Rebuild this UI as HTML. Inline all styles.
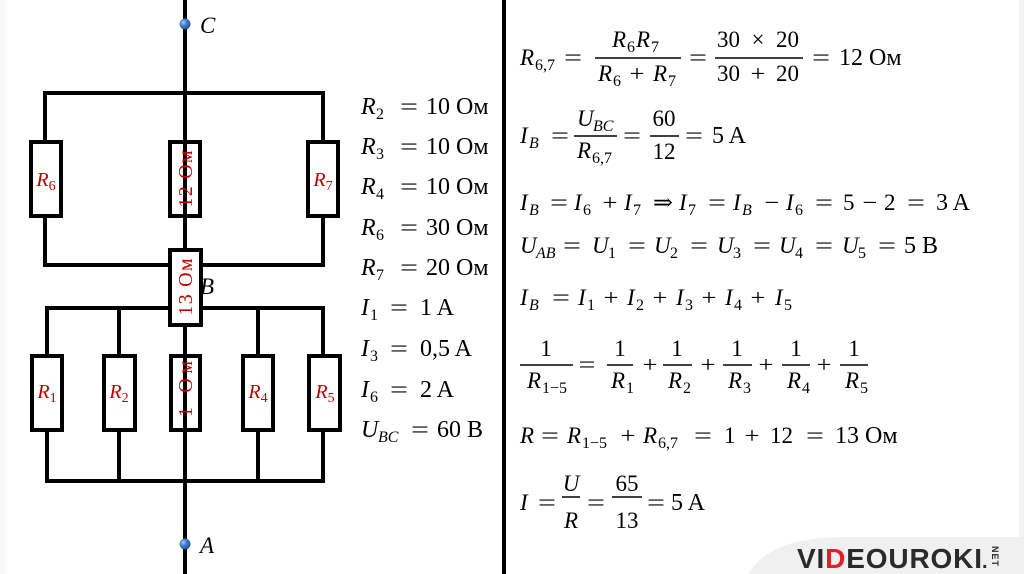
<!DOCTYPE html>
<html>
<head>
<meta charset="utf-8">
<style>
html,body{margin:0;padding:0;background:#fff;}
svg{display:block;}
text{font-family:"Liberation Serif","DejaVu Serif",serif;font-size:23px;fill:#000;}
.i{font-style:italic;}
.s{font-size:16px;}
.si{font-size:16px;font-style:italic;}
.r{fill:#c00000;font-size:20px;}
.r tspan{fill:#c00000;}
.op{text-anchor:middle;}
.v{font-size:24px;}
</style>
</head>
<body>
<svg width="1024" height="574" viewBox="0 0 1024 574" xmlns="http://www.w3.org/2000/svg">
<defs>
<radialGradient id="dot" cx="35%" cy="35%" r="70%">
<stop offset="0" stop-color="#9cc3f0"/>
<stop offset="0.5" stop-color="#3f78c8"/>
<stop offset="1" stop-color="#1f4f95"/>
</radialGradient>
</defs>
<rect x="0" y="0" width="1024" height="574" fill="#fff"/>
<rect x="0" y="0" width="6" height="574" fill="#f7f7f7"/>
<rect x="1019" y="0" width="5" height="574" fill="#f5f5f5"/>
<path d="M748 574 Q770 537 845 537 L1024 537 L1024 574 Z" fill="#f0f0f0"/>

<!-- ===== Circuit ===== -->
<g stroke="#000" stroke-width="4" fill="none">
  <line x1="43" y1="93" x2="325" y2="93"/>
  <line x1="45" y1="93" x2="45" y2="267"/>
  <line x1="323" y1="93" x2="323" y2="267"/>
  <line x1="43" y1="265" x2="325" y2="265"/>
  <line x1="45" y1="308" x2="325" y2="308"/>
  <line x1="45" y1="481" x2="325" y2="481"/>
  <line x1="47" y1="308" x2="47" y2="481"/>
  <line x1="119" y1="308" x2="119" y2="481"/>
  <line x1="258" y1="308" x2="258" y2="481"/>
  <line x1="323" y1="308" x2="323" y2="481"/>
</g>
<g stroke="#000" stroke-width="4" fill="#fff">
  <rect x="31" y="142" width="30" height="74"/>
  <rect x="308" y="142" width="30" height="74"/>
  <rect x="170" y="142" width="30" height="74"/>
  <rect x="32" y="356" width="30" height="74"/>
  <rect x="104" y="356" width="31" height="74"/>
  <rect x="171" y="356" width="29" height="74"/>
  <rect x="243" y="356" width="30" height="74"/>
  <rect x="309" y="356" width="31" height="74"/>
</g>
<line x1="185" y1="0" x2="185" y2="574" stroke="#000" stroke-width="4"/>
<text class="i" x="200" y="294">B</text>
<rect x="170" y="250" width="31" height="75" stroke="#000" stroke-width="4" fill="#fff"/>

<text class="r" x="46" y="186" text-anchor="middle"><tspan font-style="italic">R</tspan><tspan font-size="14" dy="4">6</tspan></text>
<text class="r" x="323" y="186" text-anchor="middle"><tspan font-style="italic">R</tspan><tspan font-size="14" dy="4">7</tspan></text>
<text class="r" x="47" y="398" text-anchor="middle"><tspan font-style="italic">R</tspan><tspan font-size="14" dy="4">1</tspan></text>
<text class="r" x="119" y="398" text-anchor="middle"><tspan font-style="italic">R</tspan><tspan font-size="14" dy="4">2</tspan></text>
<text class="r" x="258" y="398" text-anchor="middle"><tspan font-style="italic">R</tspan><tspan font-size="14" dy="4">4</tspan></text>
<text class="r" x="325" y="398" text-anchor="middle"><tspan font-style="italic">R</tspan><tspan font-size="14" dy="4">5</tspan></text>
<text class="r" transform="translate(192,179) rotate(-90)" text-anchor="middle" textLength="57">12 Ом</text>
<text class="r" transform="translate(192,287) rotate(-90)" text-anchor="middle" textLength="57">13 Ом</text>
<text class="r" transform="translate(192,389) rotate(-90)" text-anchor="middle" textLength="56">1 Ом</text>

<circle cx="185" cy="24" r="5.5" fill="url(#dot)"/>
<circle cx="185" cy="544" r="5.5" fill="url(#dot)"/>
<text class="i" x="200" y="33">C</text>
<text class="i" x="200" y="553">A</text>

<!-- ===== Given data ===== -->
<g>
<text class="i v" x="361" y="114">R</text><text class="s" x="376" y="119">2</text>
<text class="op" x="409" y="114" textLength="18" lengthAdjust="spacingAndGlyphs">=</text>
<text class="v" x="426" y="114">10 Ом</text>

<text class="i v" x="361" y="154">R</text><text class="s" x="376" y="159">3</text>
<text class="op" x="409" y="154" textLength="18" lengthAdjust="spacingAndGlyphs">=</text>
<text class="v" x="426" y="154">10 Ом</text>

<text class="i v" x="361" y="194">R</text><text class="s" x="376" y="199">4</text>
<text class="op" x="409" y="194" textLength="18" lengthAdjust="spacingAndGlyphs">=</text>
<text class="v" x="426" y="194">10 Ом</text>

<text class="i v" x="361" y="235">R</text><text class="s" x="376" y="240">6</text>
<text class="op" x="409" y="235" textLength="18" lengthAdjust="spacingAndGlyphs">=</text>
<text class="v" x="426" y="235">30 Ом</text>

<text class="i v" x="361" y="275">R</text><text class="s" x="376" y="280">7</text>
<text class="op" x="409" y="275" textLength="18" lengthAdjust="spacingAndGlyphs">=</text>
<text class="v" x="426" y="275">20 Ом</text>

<text class="i v" x="361" y="315">I</text><text class="s" x="370" y="320">1</text>
<text class="op" x="399" y="315" textLength="18" lengthAdjust="spacingAndGlyphs">=</text>
<text class="v" x="420" y="315">1 A</text>

<text class="i v" x="361" y="356">I</text><text class="s" x="370" y="361">3</text>
<text class="op" x="399" y="356" textLength="18" lengthAdjust="spacingAndGlyphs">=</text>
<text class="v" x="420" y="356">0,5 A</text>

<text class="i v" x="361" y="397">I</text><text class="s" x="370" y="402">6</text>
<text class="op" x="399" y="397" textLength="18" lengthAdjust="spacingAndGlyphs">=</text>
<text class="v" x="420" y="397">2 A</text>

<text class="i v" x="361" y="437">U</text><text class="si" x="378" y="442">BC</text>
<text class="op" x="420" y="437" textLength="18" lengthAdjust="spacingAndGlyphs">=</text>
<text class="v" x="437" y="437">60 B</text>
</g>

<rect x="502" y="0" width="4" height="574" fill="#000"/>

<!-- ===== Solution ===== -->
<g stroke="#000" stroke-width="1.6">
  <line x1="595" y1="58" x2="681" y2="58"/>
  <line x1="715" y1="58" x2="803" y2="58"/>
  <line x1="574" y1="136" x2="617" y2="136"/>
  <line x1="650" y1="136" x2="679" y2="136"/>
  <line x1="520" y1="365" x2="573" y2="365"/>
  <line x1="607" y1="365" x2="633" y2="365"/>
  <line x1="663" y1="365" x2="692" y2="365"/>
  <line x1="723" y1="365" x2="752" y2="365"/>
  <line x1="782" y1="365" x2="810" y2="365"/>
  <line x1="840" y1="365" x2="868" y2="365"/>
  <line x1="562" y1="497" x2="580" y2="497"/>
  <line x1="612" y1="497" x2="642" y2="497"/>
</g>

<!-- Line 1 -->
<text class="i" x="520" y="65">R</text><text class="s" x="535" y="70">6,7</text>
<text class="op" x="573" y="65" textLength="18" lengthAdjust="spacingAndGlyphs">=</text>
<text class="i" x="612" y="47">R</text><text class="s" x="627" y="52">6</text>
<text class="i" x="636" y="47">R</text><text class="s" x="651" y="52">7</text>
<text class="i" x="598" y="81">R</text><text class="s" x="613" y="86">6</text>
<text class="op" x="637" y="81" textLength="15" lengthAdjust="spacingAndGlyphs">+</text>
<text class="i" x="653" y="81">R</text><text class="s" x="668" y="86">7</text>
<text class="op" x="698" y="65" textLength="18" lengthAdjust="spacingAndGlyphs">=</text>
<text x="717" y="47">30</text><text class="op" x="758" y="47">×</text><text x="776" y="47">20</text>
<text x="717" y="81">30</text><text class="op" x="758" y="81" textLength="15" lengthAdjust="spacingAndGlyphs">+</text><text x="776" y="81">20</text>
<text class="op" x="821" y="65" textLength="18" lengthAdjust="spacingAndGlyphs">=</text>
<text class="v" x="839" y="65">12 Ом</text>

<!-- Line 2 -->
<text class="i" x="520" y="143">I</text><text class="si" x="529" y="148">B</text>
<text class="op" x="560" y="143" textLength="18" lengthAdjust="spacingAndGlyphs">=</text>
<text class="i" x="577" y="126">U</text><text class="si" x="593" y="131">BC</text>
<text class="i" x="577" y="158">R</text><text class="s" x="592" y="163">6,7</text>
<text class="op" x="632" y="143" textLength="18" lengthAdjust="spacingAndGlyphs">=</text>
<text class="op" x="664" y="126">60</text>
<text class="op" x="664" y="159">12</text>
<text class="op" x="694" y="143" textLength="18" lengthAdjust="spacingAndGlyphs">=</text>
<text class="v" x="712" y="143">5 A</text>

<!-- Line 3 -->
<text class="i" x="520" y="210">I</text><text class="si" x="529" y="215">B</text>
<text class="op" x="559" y="210" textLength="18" lengthAdjust="spacingAndGlyphs">=</text>
<text class="i" x="574" y="210">I</text><text class="s" x="583" y="215">6</text>
<text class="op" x="610" y="210" textLength="15" lengthAdjust="spacingAndGlyphs">+</text>
<text class="i" x="624" y="210">I</text><text class="s" x="633" y="215">7</text>
<text class="op" x="663" y="210" textLength="20" lengthAdjust="spacingAndGlyphs">⇒</text>
<text class="i" x="679" y="210">I</text><text class="s" x="688" y="215">7</text>
<text class="op" x="717" y="210" textLength="18" lengthAdjust="spacingAndGlyphs">=</text>
<text class="i" x="733" y="210">I</text><text class="si" x="742" y="215">B</text>
<text class="op" x="772" y="210" textLength="15" lengthAdjust="spacingAndGlyphs">−</text>
<text class="i" x="786" y="210">I</text><text class="s" x="795" y="215">6</text>
<text class="op" x="824" y="210" textLength="18" lengthAdjust="spacingAndGlyphs">=</text>
<text x="843" y="210">5</text>
<text class="op" x="870" y="210" textLength="15" lengthAdjust="spacingAndGlyphs">−</text>
<text x="884" y="210">2</text>
<text class="op" x="916" y="210" textLength="18" lengthAdjust="spacingAndGlyphs">=</text>
<text class="v" x="936" y="210">3 A</text>

<!-- Line 4 -->
<text class="i" x="520" y="253">U</text><text class="si" x="536" y="258">AB</text>
<text class="op" x="572" y="253" textLength="18" lengthAdjust="spacingAndGlyphs">=</text>
<text class="i" x="592" y="253">U</text><text class="s" x="608" y="258">1</text>
<text class="op" x="637" y="253" textLength="18" lengthAdjust="spacingAndGlyphs">=</text>
<text class="i" x="654" y="253">U</text><text class="s" x="670" y="258">2</text>
<text class="op" x="699" y="253" textLength="18" lengthAdjust="spacingAndGlyphs">=</text>
<text class="i" x="717" y="253">U</text><text class="s" x="733" y="258">3</text>
<text class="op" x="762" y="253" textLength="18" lengthAdjust="spacingAndGlyphs">=</text>
<text class="i" x="779" y="253">U</text><text class="s" x="795" y="258">4</text>
<text class="op" x="824" y="253" textLength="18" lengthAdjust="spacingAndGlyphs">=</text>
<text class="i" x="842" y="253">U</text><text class="s" x="858" y="258">5</text>
<text class="op" x="887" y="253" textLength="18" lengthAdjust="spacingAndGlyphs">=</text>
<text class="v" x="904" y="253">5 B</text>

<!-- Line 5 -->
<text class="i" x="520" y="305">I</text><text class="si" x="529" y="310">B</text>
<text class="op" x="561" y="305" textLength="18" lengthAdjust="spacingAndGlyphs">=</text>
<text class="i" x="578" y="305">I</text><text class="s" x="587" y="310">1</text>
<text class="op" x="611" y="305" textLength="15" lengthAdjust="spacingAndGlyphs">+</text>
<text class="i" x="627" y="305">I</text><text class="s" x="636" y="310">2</text>
<text class="op" x="660" y="305" textLength="15" lengthAdjust="spacingAndGlyphs">+</text>
<text class="i" x="676" y="305">I</text><text class="s" x="685" y="310">3</text>
<text class="op" x="709" y="305" textLength="15" lengthAdjust="spacingAndGlyphs">+</text>
<text class="i" x="725" y="305">I</text><text class="s" x="734" y="310">4</text>
<text class="op" x="758" y="305" textLength="15" lengthAdjust="spacingAndGlyphs">+</text>
<text class="i" x="775" y="305">I</text><text class="s" x="784" y="310">5</text>

<!-- Line 6 -->
<text class="op" x="546" y="356">1</text>
<text class="i" x="527" y="388">R</text><text class="s" x="542" y="393">1−5</text>
<text class="op" x="587" y="372" textLength="17" lengthAdjust="spacingAndGlyphs">=</text>
<text class="op" x="620" y="356">1</text>
<text class="i" x="611" y="388">R</text><text class="s" x="626" y="393">1</text>
<text class="op" x="650" y="372" textLength="15" lengthAdjust="spacingAndGlyphs">+</text>
<text class="op" x="677" y="356">1</text>
<text class="i" x="668" y="388">R</text><text class="s" x="683" y="393">2</text>
<text class="op" x="708" y="372" textLength="15" lengthAdjust="spacingAndGlyphs">+</text>
<text class="op" x="737" y="356">1</text>
<text class="i" x="728" y="388">R</text><text class="s" x="743" y="393">3</text>
<text class="op" x="766" y="372" textLength="15" lengthAdjust="spacingAndGlyphs">+</text>
<text class="op" x="796" y="356">1</text>
<text class="i" x="787" y="388">R</text><text class="s" x="802" y="393">4</text>
<text class="op" x="824" y="372" textLength="15" lengthAdjust="spacingAndGlyphs">+</text>
<text class="op" x="854" y="356">1</text>
<text class="i" x="845" y="388">R</text><text class="s" x="860" y="393">5</text>

<!-- Line 7 -->
<text class="i" x="520" y="443">R</text>
<text class="op" x="550" y="443" textLength="18" lengthAdjust="spacingAndGlyphs">=</text>
<text class="i" x="567" y="443">R</text><text class="s" x="582" y="448">1−5</text>
<text class="op" x="628" y="443" textLength="15" lengthAdjust="spacingAndGlyphs">+</text>
<text class="i" x="643" y="443">R</text><text class="s" x="658" y="448">6,7</text>
<text class="op" x="703" y="443" textLength="18" lengthAdjust="spacingAndGlyphs">=</text>
<text x="724" y="443">1</text>
<text class="op" x="752" y="443" textLength="15" lengthAdjust="spacingAndGlyphs">+</text>
<text x="770" y="443">12</text>
<text class="op" x="815" y="443" textLength="18" lengthAdjust="spacingAndGlyphs">=</text>
<text class="v" x="835" y="443">13 Ом</text>

<!-- Line 8 -->
<text class="i" x="520" y="510">I</text>
<text class="op" x="547" y="510" textLength="18" lengthAdjust="spacingAndGlyphs">=</text>
<text class="i op" x="571" y="491">U</text>
<text class="i op" x="571" y="528">R</text>
<text class="op" x="596" y="510" textLength="18" lengthAdjust="spacingAndGlyphs">=</text>
<text class="op" x="627" y="491">65</text>
<text class="op" x="627" y="528">13</text>
<text class="op" x="656" y="510" textLength="18" lengthAdjust="spacingAndGlyphs">=</text>
<text class="v" x="671" y="510">5 A</text>

<!-- logo -->
<text x="797" y="568" textLength="185" style="font-family:'Liberation Sans','DejaVu Sans',sans-serif;font-size:28px;font-weight:bold;fill:#2a2a2a;">VI<tspan style="fill:#e01f26">D</tspan>EOUROKI</text>
<text x="982" y="568" style="font-family:'Liberation Sans',sans-serif;font-size:20px;fill:#2a2a2a;font-weight:bold;">.</text>
<text transform="translate(992,546) rotate(90)" style="font-family:'Liberation Sans',sans-serif;font-size:9px;fill:#2a2a2a;font-weight:bold;" textLength="20">NET</text>
</svg>
</body>
</html>
